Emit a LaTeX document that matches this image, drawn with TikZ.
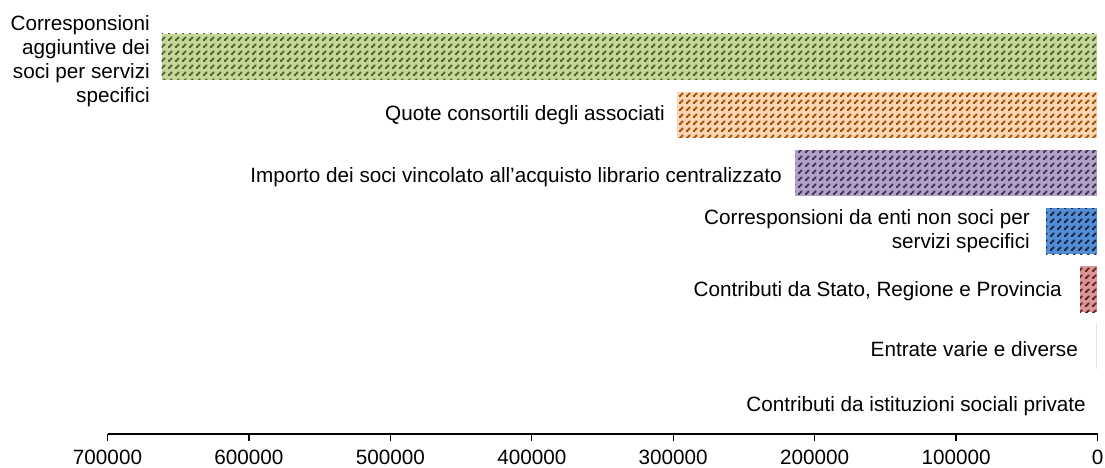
\documentclass[tikz,border=0pt]{standalone}
\usepackage{fontspec}
\setmainfont{Liberation Sans}
\usetikzlibrary{patterns}
\pgfdeclarepatternformonly{dashdiag}{\pgfpointorigin}{\pgfqpoint{7pt}{7pt}}{\pgfqpoint{7pt}{7pt}}{%
  \pgfpathrectangle{\pgfqpoint{0pt}{0pt}}{\pgfqpoint{2pt}{2pt}}%
  \pgfpathrectangle{\pgfqpoint{1pt}{1pt}}{\pgfqpoint{2pt}{2pt}}%
  \pgfpathrectangle{\pgfqpoint{2pt}{2pt}}{\pgfqpoint{2pt}{2pt}}%
  \pgfpathrectangle{\pgfqpoint{3pt}{3pt}}{\pgfqpoint{2pt}{2pt}}%
  \pgfusepath{fill}}
\definecolor{gfill}{HTML}{C4D79B}\definecolor{gdark}{HTML}{4F6228}
\definecolor{ofill}{HTML}{FCD5B4}\definecolor{odark}{HTML}{A04C00}
\definecolor{pfill}{HTML}{B1A0C7}\definecolor{pdark}{HTML}{3F3151}
\definecolor{bfill}{HTML}{538DD5}\definecolor{bdark}{HTML}{1A2340}
\definecolor{rfill}{HTML}{DA9694}\definecolor{rdark}{HTML}{632523}
\definecolor{efill}{HTML}{DCE6F1}
\tikzset{
  lbl/.style={anchor=east, align=right, inner sep=0pt, font=\fontsize{20.7}{24}\selectfont},
  ticklbl/.style={anchor=center, inner sep=0pt, font=\fontsize{20.7}{24}\selectfont},
  bar/.style n args={2}{fill=#1, postaction={pattern=dashdiag, pattern color=#2}},
  axisline/.style={line width=1.4pt, black}
}
\begin{document}
\begin{tikzpicture}[x=1pt,y=-1pt]
\useasboundingbox (0,0) rectangle (1105,468);
% bars
\path[bar={gfill}{gdark}] (161.5,34) rectangle (1097,80);
\path[bar={ofill}{odark}] (677,92) rectangle (1097,138);
\path[bar={pfill}{pdark}] (795,150) rectangle (1097,196);
\path[bar={bfill}{bdark}] (1046,208) rectangle (1097,254);
\path[bar={rfill}{rdark}] (1080,266) rectangle (1097,312);
\fill[efill] (1095.5,323) rectangle (1097,369);
% labels
\node[lbl] (l1) at (150,61) {Corresponsioni\\aggiuntive dei\\soci per servizi\\specifici};
\node[lbl] (l2) at (665,115) {Quote consortili degli associati};
\node[lbl] (l3) at (782,177) {Importo dei soci vincolato all’acquisto librario centralizzato};
\node[lbl] (l4) at (1030,231) {Corresponsioni da enti non soci per\\servizi specifici};
\node[lbl] (l5) at (1062,291) {Contributi da Stato, Regione e Provincia};
\node[lbl] (l6) at (1078,349) {Entrate varie e diverse};
\node[lbl] (l7) at (1086,406) {Contributi da istituzioni sociali private};
% axis
\coordinate (a0) at (107.5,434);
\coordinate (a1) at (1097.5,434);
\draw[axisline] (a0) -- (a1);
\foreach \i/\t in {0/700000,1/600000,2/500000,3/400000,4/300000,5/200000,6/100000,7/0}{
  \draw[axisline] (107.5+\i*141.43,434) -- (107.5+\i*141.43,441);
  \node[ticklbl] (t\i) at (107.5+\i*141.43,457) {\t};
}
\end{tikzpicture}
\end{document}
